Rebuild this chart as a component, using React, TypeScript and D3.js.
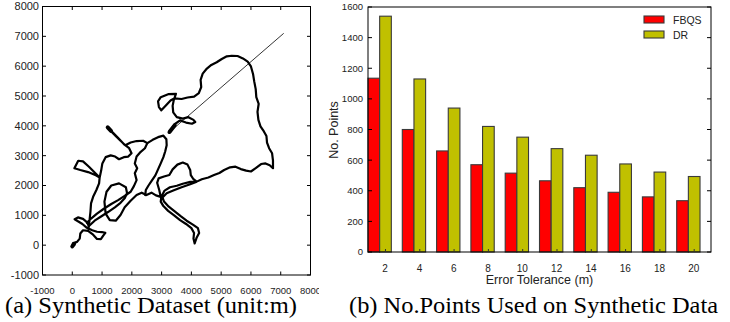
import React, { useRef, useEffect } from "react";
import * as d3 from "d3";

const W = 730;
const H = 322;

// right chart data
const tolerance = [2, 4, 6, 8, 10, 12, 14, 16, 18, 20];
const fbqsPoints = [1135, 800, 660, 570, 515, 465, 420, 390, 360, 335];
const drPoints = [1540, 1130, 940, 820, 750, 675, 632, 575, 522, 493];
const barTicks = [0, 200, 400, 600, 800, 1000, 1200, 1400, 1600];

// left chart: synthetic trajectory (metres)
const trajTicks = [-1000, 0, 1000, 2000, 3000, 4000, 5000, 6000, 7000, 8000];

const trajMain: [number, number][] = [
  [0, -30], [20, 60], [160, 110], [250, 220], [270, 390], [360, 500], [530, 480], [700, 350],
  [830, 210], [960, 200], [1040, 320], [1110, 410], [990, 440], [830, 450], [670, 500], [490, 580],
  [340, 710], [190, 800], [80, 870], [190, 930], [360, 880], [490, 770], [560, 640],
  [750, 820], [980, 970], [1200, 1110], [1430, 1270], [1620, 1420], [1760, 1570], [1840, 1740],
  [1800, 1940], [1570, 2070], [1310, 2000], [1150, 1790], [1080, 1460], [1120, 1060], [1260, 840],
  [1460, 820], [1620, 1010], [1760, 1270], [1960, 1490], [2160, 1680], [2330, 1760],
  [2490, 1680], [2660, 1760], [2810, 1670], [2970, 1620],
  [2920, 1850], [2850, 2090], [2900, 2240], [3080, 2300], [3260, 2350], [3370, 2540], [3530, 2700],
  [3710, 2770], [3870, 2700], [3960, 2520], [3980, 2350], [4070, 2210], [4180, 2130],
  [3960, 2120], [3710, 2060], [3510, 1990], [3280, 1940], [3100, 1830], [2990, 1620],
  [2970, 1460], [3060, 1310], [3220, 1150], [3420, 1000], [3620, 840], [3820, 710], [4000, 570],
  [4090, 410], [4070, 220], [4110, 60], [4180, 260], [4260, 410], [4220, 570], [4050, 690],
  [3840, 820], [3640, 970], [3440, 1130], [3240, 1290], [3080, 1460], [3030, 1600], [3170, 1740],
  [3390, 1830], [3670, 1940], [3960, 2040], [4180, 2130],
  [4350, 2210], [4570, 2270], [4760, 2350], [4940, 2420], [5100, 2520], [5300, 2610], [5480, 2630],
  [5660, 2550], [5840, 2500], [6000, 2470], [6160, 2580], [6340, 2720], [6490, 2740], [6630, 2680],
  [6740, 2580], [6740, 2830], [6710, 3080], [6610, 3250], [6540, 3440], [6520, 3660], [6430, 3820],
  [6320, 3980], [6250, 4200], [6220, 4470], [6260, 4740], [6180, 4960], [6160, 5230], [6110, 5490],
  [6070, 5740], [6000, 5990], [5890, 6150], [5730, 6260], [5550, 6340], [5360, 6350], [5190, 6330],
  [5020, 6240], [4850, 6130], [4670, 6040], [4520, 5920], [4380, 5750], [4310, 5540], [4330, 5300],
  [4250, 5100], [4090, 4980], [3870, 4950], [3670, 4900], [3430, 4920],
  [3480, 5070], [3220, 5060], [2970, 4960], [2880, 4820], [2910, 4630], [2990, 4520], [3150, 4690],
  [3300, 4850], [3420, 4920], [3370, 4670], [3390, 4450], [3510, 4290], [3710, 4240], [3900, 4290],
  [4070, 4200], [4130, 4130], [4020, 4070], [3820, 4110], [3620, 4180], [3460, 4070], [3350, 3920],
  [3240, 3770],
];

const trajLeft: [number, number][] = [
  [540, 550], [580, 840], [610, 1120], [630, 1400], [700, 1620], [810, 1850], [900, 2070], [920, 2270],
  [760, 2430], [560, 2630], [360, 2810], [200, 2830], [70, 2580], [270, 2520], [530, 2450], [790, 2340],
  [920, 2270], [970, 2500], [1010, 2740], [1120, 2950], [1290, 3010], [1440, 2970], [1570, 2880],
  [1730, 2950], [1880, 2970], [1990, 3080], [1910, 3250], [1730, 3390], [1550, 3580], [1370, 3770],
  [1190, 3950], [1260, 3860], [1440, 3680], [1620, 3500], [1780, 3350], [1960, 3440], [2160, 3490],
  [2380, 3500], [2520, 3420], [2440, 3250], [2270, 3100], [2160, 2970], [2100, 2740], [2180, 2580],
  [2100, 2410], [2160, 2180], [2070, 1980], [1960, 1790], [1760, 1650], [1540, 1510], [1310, 1380],
  [1060, 1220], [830, 1060], [640, 900], [490, 750],
];

const trajLoop: [number, number][] = [
  [2520, 3420], [2700, 3530], [2880, 3620], [3060, 3670], [3160, 3550], [3170, 3350], [3120, 3140],
  [3060, 2950], [2970, 2740], [2880, 2540], [2790, 2340], [2670, 2160], [2560, 2000], [2470, 1850],
  [2450, 1680],
];

const thinLine: [number, number][] = [[3240, 3770], [7100, 7100]];
const blobs: [number, number][][] = [
  [[0, -40], [60, 40]],
  [[3270, 3800], [3440, 4020]],
  [[1190, 3950], [1300, 3830]],
];

const App = () => {
  const svgRef = useRef(null);

  useEffect(() => {
    const svg = d3.select(svgRef.current);
    svg.selectAll("*").remove();

    const sans = "'Liberation Sans', Arial, Helvetica, sans-serif";
    const serif = "'Liberation Serif', 'Times New Roman', Times, serif";

    // ---------- (a) trajectory ----------
    const xA = d3.scaleLinear().domain([-1000, 8000]).range([42.5, 310.5]);
    const yA = d3.scaleLinear().domain([-1000, 8000]).range([275, 6.5]);

    svg.append("clipPath").attr("id", "clipA")
      .append("rect").attr("x", 0).attr("y", 0).attr("width", 319).attr("height", 300);

    const gA = svg.append("g").attr("clip-path", "url(#clipA)");

    const line = d3.line<[number, number]>().x((d) => xA(d[0])).y((d) => yA(d[1]));

    [trajMain, trajLeft, trajLoop].forEach((seg) => {
      gA.append("path").attr("d", line(seg)).attr("fill", "none")
        .attr("stroke", "#000").attr("stroke-width", 2.2)
        .attr("stroke-linejoin", "round").attr("stroke-linecap", "round");
    });
    blobs.forEach((seg) => {
      gA.append("path").attr("d", line(seg)).attr("fill", "none")
        .attr("stroke", "#000").attr("stroke-width", 4).attr("stroke-linecap", "round");
    });
    gA.append("path").attr("d", line(thinLine)).attr("fill", "none")
      .attr("stroke", "#000").attr("stroke-width", 0.8);

    gA.append("rect")
      .attr("x", xA(-1000)).attr("y", yA(8000))
      .attr("width", xA(8000) - xA(-1000)).attr("height", yA(-1000) - yA(8000))
      .attr("fill", "none").attr("stroke", "#000").attr("stroke-width", 1);

    trajTicks.forEach((t) => {
      gA.append("line").attr("x1", xA(-1000)).attr("x2", xA(-1000) + 3.5)
        .attr("y1", yA(t)).attr("y2", yA(t)).attr("stroke", "#000");
      gA.append("line").attr("x1", xA(8000)).attr("x2", xA(8000) - 3.5)
        .attr("y1", yA(t)).attr("y2", yA(t)).attr("stroke", "#000");
      gA.append("line").attr("x1", xA(t)).attr("x2", xA(t))
        .attr("y1", yA(-1000)).attr("y2", yA(-1000) - 3.5).attr("stroke", "#000");
      gA.append("line").attr("x1", xA(t)).attr("x2", xA(t))
        .attr("y1", yA(8000)).attr("y2", yA(8000) + 3.5).attr("stroke", "#000");

      gA.append("text").attr("x", 39).attr("y", yA(t)).attr("dy", "0.36em")
        .attr("text-anchor", "end").attr("font-family", sans).attr("font-size", 11)
        .attr("fill", "#222").text(t);
      gA.append("text").attr("x", xA(t)).attr("y", 294)
        .attr("text-anchor", "middle").attr("font-family", sans).attr("font-size", 9.5)
        .attr("fill", "#222").text(t);
    });

    // ---------- (b) bars ----------
    const cats = tolerance.map(String);
    const xB = d3.scaleBand().domain(cats).range([368, 711]).padding(0);
    const bw = xB.bandwidth();
    const xSub = d3.scaleBand().domain(["FBQS", "DR"]).range([0, bw * 0.68]);
    const yB = d3.scaleLinear().domain([0, 1600]).range([252, 7]);
    const colors: Record<string, string> = { FBQS: "#ff0000", DR: "#c0c000" };

    const gB = svg.append("g");

    const series = [
      { key: "FBQS", values: fbqsPoints },
      { key: "DR", values: drPoints },
    ];
    series.forEach((s) => {
      gB.selectAll(null).data(s.values).enter().append("rect")
        .attr("x", (d, i) => xB(cats[i])! + xSub(s.key)!)
        .attr("y", (d) => yB(d))
        .attr("width", xSub.bandwidth())
        .attr("height", (d) => yB(0) - yB(d))
        .attr("fill", colors[s.key])
        .attr("stroke", "#3a3a3a").attr("stroke-width", 1.1);
    });

    gB.append("rect").attr("x", 368).attr("y", yB(1600))
      .attr("width", 711 - 368).attr("height", yB(0) - yB(1600))
      .attr("fill", "none").attr("stroke", "#000").attr("stroke-width", 1);

    barTicks.forEach((t) => {
      gB.append("line").attr("x1", 368).attr("x2", 372).attr("y1", yB(t)).attr("y2", yB(t)).attr("stroke", "#000");
      gB.append("line").attr("x1", 711).attr("x2", 707).attr("y1", yB(t)).attr("y2", yB(t)).attr("stroke", "#000");
      gB.append("text").attr("x", 363).attr("y", yB(t)).attr("dy", "0.36em")
        .attr("text-anchor", "end").attr("font-family", sans).attr("font-size", 9.5)
        .attr("fill", "#222").text(t);
    });

    cats.forEach((c) => {
      const cx = xB(c)! + xSub("DR")! + xSub.bandwidth() / 2;
      gB.append("line").attr("x1", cx).attr("x2", cx).attr("y1", 252).attr("y2", 249).attr("stroke", "#333");
      gB.append("text").attr("x", xB(c)! + bw / 2).attr("y", 272)
        .attr("text-anchor", "middle").attr("font-family", sans).attr("font-size", 10)
        .attr("fill", "#222").text(c);
    });

    gB.append("text").attr("x", 539.5).attr("y", 284).attr("text-anchor", "middle")
      .attr("font-family", sans).attr("font-size", 12.5).attr("fill", "#222").text("Error Tolerance (m)");
    gB.append("text").attr("transform", "translate(338,130) rotate(-90)").attr("text-anchor", "middle")
      .attr("font-family", sans).attr("font-size", 12.5).attr("fill", "#222").text("No. Points");

    series.forEach((s, i) => {
      const ly = 16 + i * 15;
      gB.append("rect").attr("x", 644).attr("y", ly).attr("width", 20).attr("height", 7)
        .attr("fill", colors[s.key]).attr("stroke", "#3a3a3a").attr("stroke-width", 1.1);
      gB.append("text").attr("x", 673).attr("y", ly + 8).attr("font-family", sans)
        .attr("font-size", 10.5).attr("fill", "#222").text(s.key);
    });

    // ---------- captions ----------
    svg.append("text").attr("x", 5).attr("y", 313).attr("font-family", serif)
      .attr("font-size", 23).attr("textLength", 292).attr("lengthAdjust", "spacingAndGlyphs")
      .attr("fill", "#000").text("(a) Synthetic Dataset (unit:m)");
    svg.append("text").attr("x", 349).attr("y", 313).attr("font-family", serif)
      .attr("font-size", 23).attr("textLength", 369).attr("lengthAdjust", "spacingAndGlyphs")
      .attr("fill", "#000").text("(b) No.Points Used on Synthetic Data");
  }, []);

  return (
    <svg ref={svgRef} width={W} height={H}
      style={{ position: "absolute", left: 0, top: 0, background: "#fff" }} />
  );
};

export default App;
